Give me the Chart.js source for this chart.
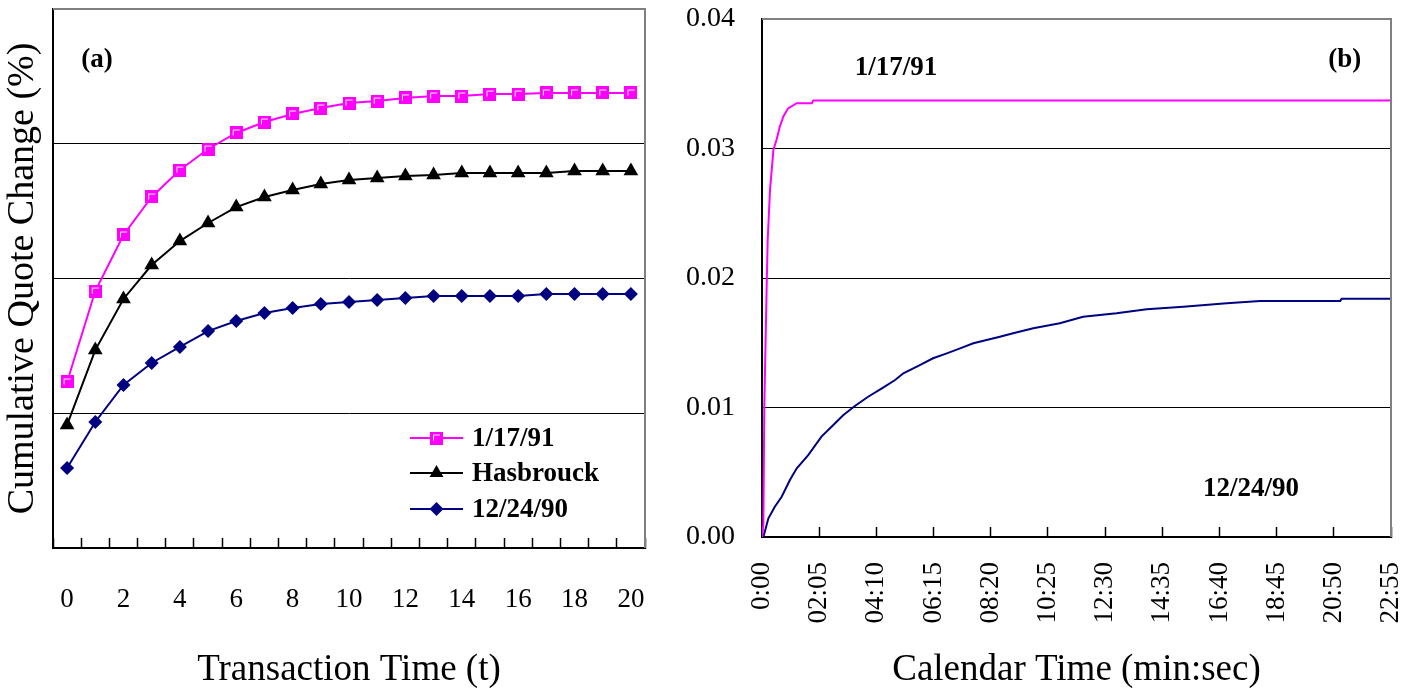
<!DOCTYPE html>
<html>
<head>
<meta charset="utf-8">
<title>Cumulative Quote Change</title>
<script src="https://cdn.jsdelivr.net/npm/chart.js@4"></script>
<style>
  html, body { margin: 0; padding: 0; background: #fff; }
  .box { position: absolute; top: 0; height: 692px; }
  #boxA { left: 0; width: 680px; }
  #boxB { left: 680px; width: 735px; }
</style>
</head>
<body>
<div class="box" id="boxA"><canvas id="chartA" width="680" height="692"></canvas></div>
<div class="box" id="boxB"><canvas id="chartB" width="735" height="692"></canvas></div>
<script>
// panel (a): transaction time
const transTime = ['0','1','2','3','4','5','6','7','8','9','10','11','12','13','14','15','16','17','18','19','20'];
const q910117 = [0.01232, 0.01907, 0.02323, 0.02605, 0.02805, 0.02961, 0.03080, 0.03161, 0.03221, 0.03265, 0.03302,
                 0.03317, 0.03340, 0.03354, 0.03354, 0.03369, 0.03369, 0.03377, 0.03377, 0.03377, 0.03377];
const qHasbrouck = [0.00913, 0.01469, 0.01848, 0.02100, 0.02278, 0.02412, 0.02530, 0.02605, 0.02657, 0.02701, 0.02731,
                    0.02746, 0.02761, 0.02768, 0.02783, 0.02783, 0.02783, 0.02783, 0.02798, 0.02798, 0.02798];
const q901224 = [0.00594, 0.00935, 0.01210, 0.01373, 0.01492, 0.01610, 0.01685, 0.01744, 0.01781, 0.01811, 0.01826,
                 0.01840, 0.01855, 0.01870, 0.01870, 0.01870, 0.01870, 0.01885, 0.01885, 0.01885, 0.01885];

// panel (b): calendar time, seconds
const calSecA = [0, 3, 5, 10, 12.4, 17.5, 25, 32, 39, 47, 57, 76, 109, 112, 1375];
const calValA = [0, 0.001, 0.010, 0.019, 0.0229, 0.0268, 0.0299, 0.0307, 0.0317, 0.0325, 0.0331, 0.0335, 0.0335, 0.0337, 0.0337];
const calSecB = [0, 3, 14, 28, 43, 61, 76, 101, 130, 152, 178, 203, 232, 262, 291, 309, 345, 374, 404, 433, 462, 491,
                 520, 549, 593, 651, 702, 775, 841, 921, 1016, 1089, 1264, 1267, 1375];
const calValB = [0, 0, 0.00144, 0.00234, 0.00311, 0.0044, 0.0053, 0.00633, 0.00775, 0.00852, 0.00942, 0.01012, 0.01083,
                 0.01148, 0.01212, 0.01264, 0.01328, 0.0138, 0.01418, 0.01457, 0.01496, 0.01521, 0.01547, 0.01573,
                 0.01612, 0.0165, 0.0170, 0.01727, 0.01758, 0.01778, 0.01805, 0.01822, 0.01822, 0.0184, 0.0184];
const calTickLabels = ['0:00','02:05','04:10','06:15','08:20','10:25','12:30','14:35','16:40','18:45','20:50','22:55'];

const seriesNames = ['1/17/91', 'Hasbrouck', '12/24/90'];
const seriesColors = ['#ff00ff', '#000000', '#000080'];

Chart.defaults.font.family = "'Liberation Serif', 'Times New Roman', serif";
Chart.defaults.color = '#000';

const FONT = "'Liberation Serif', 'Times New Roman', serif";

function squareMarker(size) {
  const c = document.createElement('canvas');
  c.width = size; c.height = size;
  const g = c.getContext('2d');
  g.fillStyle = '#ff00ff';
  g.fillRect(0, 0, size, size);
  g.strokeStyle = '#fff';
  g.lineWidth = 1;
  g.beginPath();
  g.moveTo(3.5, size - 4);
  g.lineTo(3.5, 3.5);
  g.lineTo(size - 3, 3.5);
  g.stroke();
  return c;
}
const sq = squareMarker(13);

const inside = v => v > 0.0001 && v < 0.0399;

// keep the plot box where the layout padding puts it
const noPadX = (h) => s => { s.height = h; s.paddingLeft = 0; s.paddingRight = 0; };
const noPadY = (w) => s => { s.width = w; s.paddingTop = 0; s.paddingBottom = 0; };

// gray top/right edges of the plot box
const frame = {
  id: 'frame',
  afterDatasetsDraw(chart) {
    const { ctx, chartArea: a } = chart;
    ctx.save();
    ctx.strokeStyle = '#808080';
    ctx.lineWidth = 2;
    ctx.beginPath();
    ctx.moveTo(a.left, a.top);
    ctx.lineTo(a.right, a.top);
    ctx.lineTo(a.right, a.bottom);
    ctx.stroke();
    ctx.restore();
  }
};

// text notes placed in data coordinates
const notes = {
  id: 'notes',
  afterDraw(chart, args, opts) {
    const { ctx, scales } = chart;
    ctx.save();
    ctx.font = 'bold 27px ' + FONT;
    ctx.fillStyle = '#000';
    ctx.textAlign = 'center';
    ctx.textBaseline = 'middle';
    (opts.items || []).forEach(n => {
      ctx.fillText(n.text, scales.x.getPixelForValue(n.x), scales.y.getPixelForValue(n.y));
    });
    ctx.restore();
  }
};

// legend inside panel (a), line + marker samples
const boxLegend = {
  id: 'boxLegend',
  afterDraw(chart) {
    const { ctx } = chart;
    const x0 = 410, x1 = 463, tx = 472;
    const rows = [438, 473, 509];
    ctx.save();
    chart.data.datasets.forEach((ds, i) => {
      const y = rows[i];
      ctx.strokeStyle = ds.borderColor;
      ctx.lineWidth = 2;
      ctx.beginPath();
      ctx.moveTo(x0, y);
      ctx.lineTo(x1, y);
      ctx.stroke();
      const cx = (x0 + x1) / 2;
      ctx.fillStyle = ds.borderColor;
      if (ds.pointStyle === sq) {
        ctx.drawImage(sq, cx - 6.5, y - 6.5);
      } else if (ds.pointStyle === 'triangle') {
        const r = 8;
        ctx.beginPath();
        ctx.moveTo(cx, y - r);
        ctx.lineTo(cx + 0.866 * r, y + r / 2);
        ctx.lineTo(cx - 0.866 * r, y + r / 2);
        ctx.closePath();
        ctx.fill();
      } else {
        const r = 7;
        ctx.beginPath();
        ctx.moveTo(cx, y - r);
        ctx.lineTo(cx + r, y);
        ctx.lineTo(cx, y + r);
        ctx.lineTo(cx - r, y);
        ctx.closePath();
        ctx.fill();
      }
      ctx.fillStyle = '#000';
      ctx.font = 'bold 27px ' + FONT;
      ctx.textBaseline = 'middle';
      ctx.fillText(ds.label, tx, y + 1);
    });
    ctx.restore();
  }
};

new Chart(document.getElementById('chartA'), {
  type: 'line',
  data: {
    labels: transTime,
    datasets: [
      { label: seriesNames[0], data: q910117, borderColor: seriesColors[0], backgroundColor: seriesColors[0],
        borderWidth: 2, pointStyle: sq, pointRadius: 7 },
      { label: seriesNames[1], data: qHasbrouck, borderColor: seriesColors[1], backgroundColor: seriesColors[1],
        borderWidth: 2, pointStyle: 'triangle', pointRadius: 8.5, pointBorderWidth: 0 },
      { label: seriesNames[2], data: q901224, borderColor: seriesColors[2], backgroundColor: seriesColors[2],
        borderWidth: 2, pointStyle: 'rectRot', pointRadius: 7, pointBorderWidth: 0 },
    ]
  },
  options: {
    responsive: false,
    animation: false,
    devicePixelRatio: 1,
    layout: { padding: { top: 9, right: 35, left: 0, bottom: 0 } },
    plugins: {
      legend: { display: false },
      tooltip: { enabled: false },
      notes: { items: [{ text: '(a)', x: 1.06, y: 0.0362 }] }
    },
    scales: {
      x: {
        offset: true,
        grid: { offset: true, drawOnChartArea: false, tickLength: -10, tickColor: '#000', tickWidth: 1.5 },
        border: { color: '#000', width: 2 },
        ticks: {
          autoSkip: false, maxRotation: 0, padding: 46,
          font: { size: 27 },
          callback: (v, i) => (i % 2 ? '' : transTime[i])
        },
        title: { display: true, text: 'Transaction Time (t)', font: { size: 37 }, padding: { top: 0, bottom: 0 } },
        afterFit: noPadX(144)
      },
      y: {
        min: 0, max: 0.04,
        ticks: { display: false, stepSize: 0.01 },
        grid: { color: c => (inside(c.tick.value) ? '#000' : 'rgba(0,0,0,0)'), drawTicks: false, lineWidth: 1 },
        border: { color: '#000', width: 2 },
        title: { display: true, text: 'Cumulative Quote Change (%)', font: { size: 38 }, padding: { top: 0, bottom: 0 } },
        afterFit: noPadY(53)
      }
    }
  },
  plugins: [frame, notes, boxLegend]
});

new Chart(document.getElementById('chartB'), {
  type: 'line',
  data: {
    datasets: [
      { label: seriesNames[0], data: calSecA.map((s, i) => ({ x: s, y: calValA[i] })),
        borderColor: seriesColors[0], borderWidth: 2, pointRadius: 0 },
      { label: seriesNames[2], data: calSecB.map((s, i) => ({ x: s, y: calValB[i] })),
        borderColor: seriesColors[2], borderWidth: 2, pointRadius: 0 },
    ]
  },
  options: {
    responsive: false,
    animation: false,
    devicePixelRatio: 1,
    layout: { padding: { top: 19, right: 24, left: 0, bottom: 0 } },
    plugins: {
      legend: { display: false },
      tooltip: { enabled: false },
      notes: { items: [
        { text: '1/17/91', x: 293, y: 0.0362 },
        { text: '12/24/90', x: 1069, y: 0.0037 },
        { text: '(b)', x: 1274, y: 0.0368 }
      ] }
    },
    scales: {
      x: {
        type: 'linear',
        min: 0, max: 1375,
        grid: { drawOnChartArea: false, tickLength: -10, tickColor: '#000', tickWidth: 1.5 },
        border: { color: '#000', width: 2 },
        ticks: {
          stepSize: 125, autoSkip: false, minRotation: 90, maxRotation: 90, padding: 35,
          font: { size: 27 },
          callback: (v, i) => calTickLabels[i]
        },
        title: { display: true, text: 'Calendar Time (min:sec)', font: { size: 37 }, padding: { top: 0, bottom: 0 } },
        afterFit: noPadX(155)
      },
      y: {
        min: 0, max: 0.04,
        ticks: { stepSize: 0.01, padding: 27, font: { size: 28 }, callback: v => v.toFixed(2) },
        grid: { color: c => (inside(c.tick.value) ? '#000' : 'rgba(0,0,0,0)'), drawTicks: false, lineWidth: 1 },
        border: { color: '#000', width: 2 },
        afterFit: noPadY(82)
      }
    }
  },
  plugins: [frame, notes]
});
</script>
</body>
</html>
